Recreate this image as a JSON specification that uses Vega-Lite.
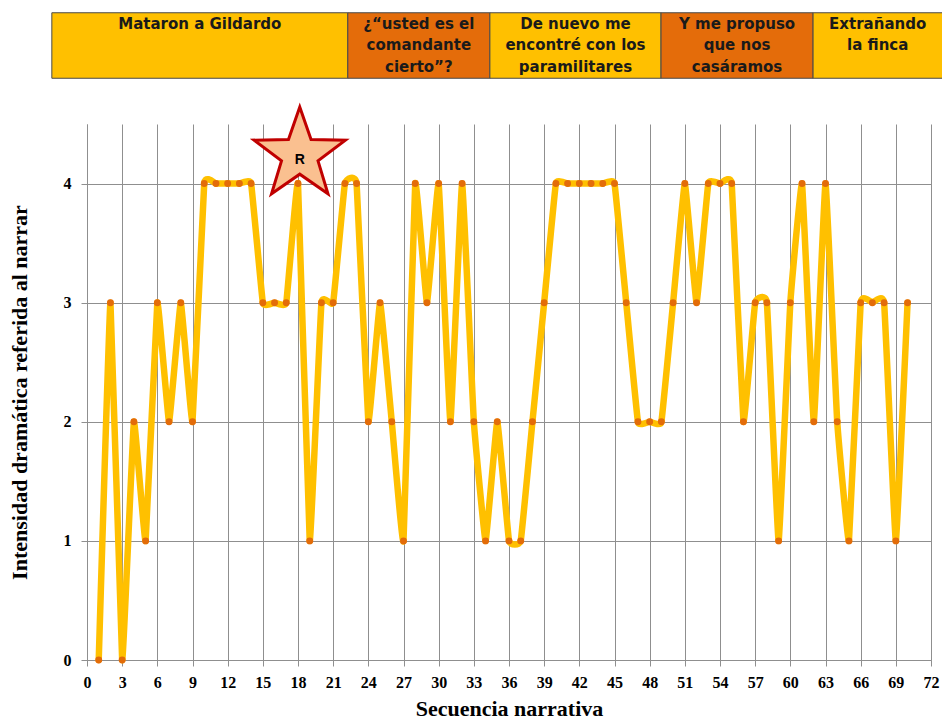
{
  "$schema": "https://vega.github.io/schema/vega-lite/v6.json",
  "autosize": {"type": "none"},
  "width": 844,
  "height": 536,
  "padding": {"left": 87, "top": 124, "right": 11, "bottom": 59},
  "background": "white",
  "config": {"view": {"stroke": null}},
  "datasets": {
    "serie": [
      {"secuencia": 1, "intensidad": 0}, {"secuencia": 2, "intensidad": 3}, {"secuencia": 3, "intensidad": 0},
      {"secuencia": 4, "intensidad": 2}, {"secuencia": 5, "intensidad": 1}, {"secuencia": 6, "intensidad": 3},
      {"secuencia": 7, "intensidad": 2}, {"secuencia": 8, "intensidad": 3}, {"secuencia": 9, "intensidad": 2},
      {"secuencia": 10, "intensidad": 4}, {"secuencia": 11, "intensidad": 4}, {"secuencia": 12, "intensidad": 4},
      {"secuencia": 13, "intensidad": 4}, {"secuencia": 14, "intensidad": 4}, {"secuencia": 15, "intensidad": 3},
      {"secuencia": 16, "intensidad": 3}, {"secuencia": 17, "intensidad": 3}, {"secuencia": 18, "intensidad": 4},
      {"secuencia": 19, "intensidad": 1}, {"secuencia": 20, "intensidad": 3}, {"secuencia": 21, "intensidad": 3},
      {"secuencia": 22, "intensidad": 4}, {"secuencia": 23, "intensidad": 4}, {"secuencia": 24, "intensidad": 2},
      {"secuencia": 25, "intensidad": 3}, {"secuencia": 26, "intensidad": 2}, {"secuencia": 27, "intensidad": 1},
      {"secuencia": 28, "intensidad": 4}, {"secuencia": 29, "intensidad": 3}, {"secuencia": 30, "intensidad": 4},
      {"secuencia": 31, "intensidad": 2}, {"secuencia": 32, "intensidad": 4}, {"secuencia": 33, "intensidad": 2},
      {"secuencia": 34, "intensidad": 1}, {"secuencia": 35, "intensidad": 2}, {"secuencia": 36, "intensidad": 1},
      {"secuencia": 37, "intensidad": 1}, {"secuencia": 38, "intensidad": 2}, {"secuencia": 39, "intensidad": 3},
      {"secuencia": 40, "intensidad": 4}, {"secuencia": 41, "intensidad": 4}, {"secuencia": 42, "intensidad": 4},
      {"secuencia": 43, "intensidad": 4}, {"secuencia": 44, "intensidad": 4}, {"secuencia": 45, "intensidad": 4},
      {"secuencia": 46, "intensidad": 3}, {"secuencia": 47, "intensidad": 2}, {"secuencia": 48, "intensidad": 2},
      {"secuencia": 49, "intensidad": 2}, {"secuencia": 50, "intensidad": 3}, {"secuencia": 51, "intensidad": 4},
      {"secuencia": 52, "intensidad": 3}, {"secuencia": 53, "intensidad": 4}, {"secuencia": 54, "intensidad": 4},
      {"secuencia": 55, "intensidad": 4}, {"secuencia": 56, "intensidad": 2}, {"secuencia": 57, "intensidad": 3},
      {"secuencia": 58, "intensidad": 3}, {"secuencia": 59, "intensidad": 1}, {"secuencia": 60, "intensidad": 3},
      {"secuencia": 61, "intensidad": 4}, {"secuencia": 62, "intensidad": 2}, {"secuencia": 63, "intensidad": 4},
      {"secuencia": 64, "intensidad": 2}, {"secuencia": 65, "intensidad": 1}, {"secuencia": 66, "intensidad": 3},
      {"secuencia": 67, "intensidad": 3}, {"secuencia": 68, "intensidad": 3}, {"secuencia": 69, "intensidad": 1},
      {"secuencia": 70, "intensidad": 3}
    ],
    "tramos": [
      {"tramo": "Mataron a Gildardo", "inicio": -3, "fin": 22.25, "tono": "claro"},
      {"tramo": "¿“usted es el\ncomandante\ncierto”?", "inicio": 22.25, "fin": 34.37, "tono": "oscuro"},
      {"tramo": "De nuevo  me\nencontré con los\nparamilitares", "inicio": 34.37, "fin": 48.97, "tono": "claro"},
      {"tramo": "Y me propuso\nque nos\ncasáramos", "inicio": 48.97, "fin": 61.94, "tono": "oscuro"},
      {"tramo": "Extrañando\nla finca", "inicio": 61.94, "fin": 73.5, "tono": "claro"}
    ],
    "nota": [{"marca": "R"}]
  },
  "layer": [
    {
      "data": {"name": "serie"},
      "mark": {"type": "line", "interpolate": "cardinal", "tension": 0.75, "color": "#FFC000", "strokeWidth": 6.5, "strokeJoin": "round", "strokeCap": "round"},
      "encoding": {
        "x": {
          "field": "secuencia", "type": "quantitative",
          "scale": {"domain": [0, 72], "nice": false, "zero": false},
          "axis": {
            "values": [0, 3, 6, 9, 12, 15, 18, 21, 24, 27, 30, 33, 36, 39, 42, 45, 48, 51, 54, 57, 60, 63, 66, 69, 72],
            "format": "d", "grid": true, "gridColor": "#8f8f8f", "gridWidth": 1, "gridOpacity": 1,
            "domainColor": "#8f8f8f", "tickColor": "#8f8f8f", "tickSize": 6,
            "labelFont": "Liberation Serif", "labelFontWeight": "bold", "labelFontSize": 16, "labelColor": "#000000",
            "labelPadding": 8, "labelFlush": false, "labelOverlap": false,
            "title": "Secuencia narrativa", "titleFont": "Liberation Serif", "titleFontWeight": "bold",
            "titleFontSize": 22, "titleColor": "#000000", "titlePadding": 8
          }
        },
        "y": {
          "field": "intensidad", "type": "quantitative",
          "scale": {"domain": [0, 4.5], "nice": false},
          "axis": {
            "values": [0, 1, 2, 3, 4],
            "format": "d", "grid": true, "gridColor": "#8f8f8f", "gridWidth": 1, "gridOpacity": 1,
            "domainColor": "#8f8f8f", "tickColor": "#8f8f8f", "tickSize": 6,
            "labelFont": "Liberation Serif", "labelFontWeight": "bold", "labelFontSize": 16, "labelColor": "#000000",
            "labelPadding": 10, "labelFlush": false,
            "title": "Intensidad dramática referida al narrar", "titleFont": "Liberation Serif", "titleFontWeight": "bold",
            "titleFontSize": 22, "titleColor": "#000000", "titlePadding": 32
          }
        }
      }
    },
    {
      "data": {"name": "serie"},
      "mark": {"type": "point", "filled": true, "color": "#E36C09", "size": 48, "opacity": 1},
      "encoding": {
        "x": {
          "field": "secuencia", "type": "quantitative",
          "axis": {
            "values": [0, 3, 6, 9, 12, 15, 18, 21, 24, 27, 30, 33, 36, 39, 42, 45, 48, 51, 54, 57, 60, 63, 66, 69, 72],
            "format": "d", "grid": true, "gridColor": "#8f8f8f", "gridWidth": 1, "gridOpacity": 1,
            "domainColor": "#8f8f8f", "tickColor": "#8f8f8f", "tickSize": 6,
            "labelFont": "Liberation Serif", "labelFontWeight": "bold", "labelFontSize": 16, "labelColor": "#000000",
            "labelPadding": 8, "labelFlush": false, "labelOverlap": false,
            "title": "Secuencia narrativa", "titleFont": "Liberation Serif", "titleFontWeight": "bold",
            "titleFontSize": 22, "titleColor": "#000000", "titlePadding": 8
          }
        },
        "y": {
          "field": "intensidad", "type": "quantitative",
          "axis": {
            "values": [0, 1, 2, 3, 4],
            "format": "d", "grid": true, "gridColor": "#8f8f8f", "gridWidth": 1, "gridOpacity": 1,
            "domainColor": "#8f8f8f", "tickColor": "#8f8f8f", "tickSize": 6,
            "labelFont": "Liberation Serif", "labelFontWeight": "bold", "labelFontSize": 16, "labelColor": "#000000",
            "labelPadding": 10, "labelFlush": false,
            "title": "Intensidad dramática referida al narrar", "titleFont": "Liberation Serif", "titleFontWeight": "bold",
            "titleFontSize": 22, "titleColor": "#000000", "titlePadding": 32
          }
        }
      }
    },
    {
      "data": {"name": "tramos"},
      "mark": {"type": "rect", "stroke": "#4a4a4a", "strokeWidth": 1},
      "encoding": {
        "x": {
          "field": "inicio", "type": "quantitative",
          "axis": {
            "values": [0, 3, 6, 9, 12, 15, 18, 21, 24, 27, 30, 33, 36, 39, 42, 45, 48, 51, 54, 57, 60, 63, 66, 69, 72],
            "format": "d", "grid": true, "gridColor": "#8f8f8f", "gridWidth": 1, "gridOpacity": 1,
            "domainColor": "#8f8f8f", "tickColor": "#8f8f8f", "tickSize": 6,
            "labelFont": "Liberation Serif", "labelFontWeight": "bold", "labelFontSize": 16, "labelColor": "#000000",
            "labelPadding": 8, "labelFlush": false, "labelOverlap": false,
            "title": "Secuencia narrativa", "titleFont": "Liberation Serif", "titleFontWeight": "bold",
            "titleFontSize": 22, "titleColor": "#000000", "titlePadding": 8
          }
        },
        "x2": {"field": "fin"},
        "y": {
          "datum": 4.884,
          "axis": {
            "values": [0, 1, 2, 3, 4],
            "format": "d", "grid": true, "gridColor": "#8f8f8f", "gridWidth": 1, "gridOpacity": 1,
            "domainColor": "#8f8f8f", "tickColor": "#8f8f8f", "tickSize": 6,
            "labelFont": "Liberation Serif", "labelFontWeight": "bold", "labelFontSize": 16, "labelColor": "#000000",
            "labelPadding": 10, "labelFlush": false,
            "title": "Intensidad dramática referida al narrar", "titleFont": "Liberation Serif", "titleFontWeight": "bold",
            "titleFontSize": 22, "titleColor": "#000000", "titlePadding": 32
          }
        },
        "y2": {"datum": 5.434},
        "color": {"field": "tono", "type": "nominal", "scale": {"domain": ["claro", "oscuro"], "range": ["#FFC000", "#E46C0A"]}, "legend": null}
      }
    },
    {
      "data": {"name": "tramos"},
      "transform": [{"calculate": "(datum.inicio + min(datum.fin, 72.96)) / 2", "as": "centro"}],
      "mark": {"type": "text", "font": "DejaVu Sans", "fontWeight": "bold", "fontSize": 15, "color": "#1a1a1a", "align": "center", "baseline": "top", "lineBreak": "\n", "lineHeight": 21.7},
      "encoding": {
        "x": {
          "field": "centro", "type": "quantitative",
          "axis": {
            "values": [0, 3, 6, 9, 12, 15, 18, 21, 24, 27, 30, 33, 36, 39, 42, 45, 48, 51, 54, 57, 60, 63, 66, 69, 72],
            "format": "d", "grid": true, "gridColor": "#8f8f8f", "gridWidth": 1, "gridOpacity": 1,
            "domainColor": "#8f8f8f", "tickColor": "#8f8f8f", "tickSize": 6,
            "labelFont": "Liberation Serif", "labelFontWeight": "bold", "labelFontSize": 16, "labelColor": "#000000",
            "labelPadding": 8, "labelFlush": false, "labelOverlap": false,
            "title": "Secuencia narrativa", "titleFont": "Liberation Serif", "titleFontWeight": "bold",
            "titleFontSize": 22, "titleColor": "#000000", "titlePadding": 8
          }
        },
        "y": {
          "datum": 5.40,
          "axis": {
            "values": [0, 1, 2, 3, 4],
            "format": "d", "grid": true, "gridColor": "#8f8f8f", "gridWidth": 1, "gridOpacity": 1,
            "domainColor": "#8f8f8f", "tickColor": "#8f8f8f", "tickSize": 6,
            "labelFont": "Liberation Serif", "labelFontWeight": "bold", "labelFontSize": 16, "labelColor": "#000000",
            "labelPadding": 10, "labelFlush": false,
            "title": "Intensidad dramática referida al narrar", "titleFont": "Liberation Serif", "titleFontWeight": "bold",
            "titleFontSize": 22, "titleColor": "#000000", "titlePadding": 32
          }
        },
        "text": {"field": "tramo"}
      }
    },
    {
      "data": {"name": "nota"},
      "mark": {"type": "point", "shape": "M0,-1L0.2351,-0.3236L0.9511,-0.309L0.3804,0.1236L0.5878,0.809L0,0.4L-0.5878,0.809L-0.3804,0.1236L-0.9511,-0.309L-0.2351,-0.3236Z", "size": 9216, "filled": true, "fill": "#FAC090", "stroke": "#C00000", "strokeWidth": 3, "opacity": 1, "strokeJoin": "miter"},
      "encoding": {
        "x": {
          "datum": 18.15,
          "axis": {
            "values": [0, 3, 6, 9, 12, 15, 18, 21, 24, 27, 30, 33, 36, 39, 42, 45, 48, 51, 54, 57, 60, 63, 66, 69, 72],
            "format": "d", "grid": true, "gridColor": "#8f8f8f", "gridWidth": 1, "gridOpacity": 1,
            "domainColor": "#8f8f8f", "tickColor": "#8f8f8f", "tickSize": 6,
            "labelFont": "Liberation Serif", "labelFontWeight": "bold", "labelFontSize": 16, "labelColor": "#000000",
            "labelPadding": 8, "labelFlush": false, "labelOverlap": false,
            "title": "Secuencia narrativa", "titleFont": "Liberation Serif", "titleFontWeight": "bold",
            "titleFontSize": 22, "titleColor": "#000000", "titlePadding": 8
          }
        },
        "y": {
          "datum": 4.24,
          "axis": {
            "values": [0, 1, 2, 3, 4],
            "format": "d", "grid": true, "gridColor": "#8f8f8f", "gridWidth": 1, "gridOpacity": 1,
            "domainColor": "#8f8f8f", "tickColor": "#8f8f8f", "tickSize": 6,
            "labelFont": "Liberation Serif", "labelFontWeight": "bold", "labelFontSize": 16, "labelColor": "#000000",
            "labelPadding": 10, "labelFlush": false,
            "title": "Intensidad dramática referida al narrar", "titleFont": "Liberation Serif", "titleFontWeight": "bold",
            "titleFontSize": 22, "titleColor": "#000000", "titlePadding": 32
          }
        }
      }
    },
    {
      "data": {"name": "nota"},
      "mark": {"type": "text", "font": "Liberation Sans", "fontWeight": "bold", "fontSize": 14, "color": "#000000", "align": "center", "baseline": "middle", "dy": 5},
      "encoding": {
        "x": {
          "datum": 18.15,
          "axis": {
            "values": [0, 3, 6, 9, 12, 15, 18, 21, 24, 27, 30, 33, 36, 39, 42, 45, 48, 51, 54, 57, 60, 63, 66, 69, 72],
            "format": "d", "grid": true, "gridColor": "#8f8f8f", "gridWidth": 1, "gridOpacity": 1,
            "domainColor": "#8f8f8f", "tickColor": "#8f8f8f", "tickSize": 6,
            "labelFont": "Liberation Serif", "labelFontWeight": "bold", "labelFontSize": 16, "labelColor": "#000000",
            "labelPadding": 8, "labelFlush": false, "labelOverlap": false,
            "title": "Secuencia narrativa", "titleFont": "Liberation Serif", "titleFontWeight": "bold",
            "titleFontSize": 22, "titleColor": "#000000", "titlePadding": 8
          }
        },
        "y": {
          "datum": 4.24,
          "axis": {
            "values": [0, 1, 2, 3, 4],
            "format": "d", "grid": true, "gridColor": "#8f8f8f", "gridWidth": 1, "gridOpacity": 1,
            "domainColor": "#8f8f8f", "tickColor": "#8f8f8f", "tickSize": 6,
            "labelFont": "Liberation Serif", "labelFontWeight": "bold", "labelFontSize": 16, "labelColor": "#000000",
            "labelPadding": 10, "labelFlush": false,
            "title": "Intensidad dramática referida al narrar", "titleFont": "Liberation Serif", "titleFontWeight": "bold",
            "titleFontSize": 22, "titleColor": "#000000", "titlePadding": 32
          }
        },
        "text": {"field": "marca"}
      }
    }
  ]
}
